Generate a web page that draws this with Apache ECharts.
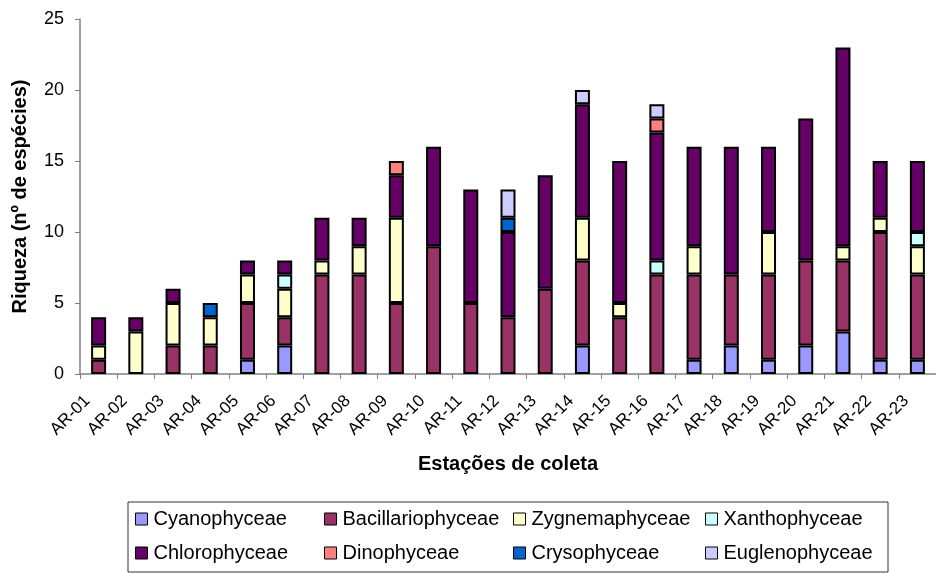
<!DOCTYPE html>
<html>
<head>
<meta charset="utf-8">
<script src="https://cdn.jsdelivr.net/npm/echarts@6/dist/echarts.min.js"></script>
<style>
html,body{margin:0;padding:0;background:#fff;}
#chart{width:936px;height:574px;}
</style>
</head>
<body>
<div id="chart"></div>
<script>
const categories = ['AR-01','AR-02','AR-03','AR-04','AR-05','AR-06','AR-07','AR-08','AR-09','AR-10','AR-11','AR-12','AR-13','AR-14','AR-15','AR-16','AR-17','AR-18','AR-19','AR-20','AR-21','AR-22','AR-23'];
const yTicks = [0, 5, 10, 15, 20, 25];

const cyanophyceae      = [0,0,0,0,1,2,0,0,0,0,0,0,0,2,0,0,1,2,1,2,3,1,1];
const bacillariophyceae = [1,0,2,2,4,2,7,7,5,9,5,4,6,6,4,7,6,5,6,6,5,9,6];
const zygnemaphyceae    = [1,3,3,2,2,2,1,2,6,0,0,0,0,3,1,0,2,0,3,0,1,1,2];
const xanthophyceae     = [0,0,0,0,0,1,0,0,0,0,0,0,0,0,0,1,0,0,0,0,0,0,1];
const chlorophyceae     = [2,1,1,0,1,1,3,2,3,7,8,6,8,8,10,9,7,9,6,10,14,4,5];
const dinophyceae       = [0,0,0,0,0,0,0,0,1,0,0,0,0,0,0,1,0,0,0,0,0,0,0];
const crysophyceae      = [0,0,0,1,0,0,0,0,0,0,0,1,0,0,0,0,0,0,0,0,0,0,0];
const euglenophyceae    = [0,0,0,0,0,0,0,0,0,0,0,2,0,1,0,1,0,0,0,0,0,0,0];

const seriesNames = ['Cyanophyceae','Bacillariophyceae','Zygnemaphyceae','Xanthophyceae','Chlorophyceae','Dinophyceae','Crysophyceae','Euglenophyceae'];
const seriesValues = [cyanophyceae, bacillariophyceae, zygnemaphyceae, xanthophyceae, chlorophyceae, dinophyceae, crysophyceae, euglenophyceae];
const seriesColors = ['#9999FF','#993366','#FFFFCC','#CCFFFF','#660066','#FF8080','#0066CC','#CCCCFF'];

const FONT = 'Liberation Sans, Arial, sans-serif';

const series = seriesNames.map((name, i) => ({
  name: name,
  type: 'bar',
  stack: 'total',
  barWidth: 15,
  data: seriesValues[i].map(v => v === 0 ? '-' : v),
  itemStyle: { color: seriesColors[i], borderColor: '#000', borderWidth: 2 },
  emphasis: { disabled: true }
}));

const legendCols = [
  ['Cyanophyceae','Chlorophyceae'],
  ['Bacillariophyceae','Dinophyceae'],
  ['Zygnemaphyceae','Crysophyceae'],
  ['Xanthophyceae','Euglenophyceae']
];
const legendLeft = [135, 324, 513, 705];
const legends = legendCols.map((col, i) => ({
  data: col,
  orient: 'vertical',
  left: legendLeft[i],
  top: 509,
  icon: 'rect',
  itemWidth: 12,
  itemHeight: 12,
  itemGap: 14,
  padding: 0,
  selectedMode: false,
  itemStyle: { borderColor: '#000', borderWidth: 1 },
  textStyle: { fontFamily: FONT, fontSize: 20, color: '#000', lineHeight: 20, padding: [0,0,0,1] }
}));

const chart = echarts.init(document.getElementById('chart'), null, { renderer: 'canvas' });
chart.setOption({
  animation: false,
  backgroundColor: '#fff',
  grid: { left: 80, right: -2, top: 19, bottom: 200, containLabel: false },
  legend: legends,
  graphic: [{
    type: 'rect',
    shape: { x: 128, y: 502, width: 760, height: 70 },
    style: { fill: 'none', stroke: '#333', lineWidth: 1 },
    z: -1
  }],
  xAxis: {
    type: 'category',
    data: categories,
    name: 'Estações de coleta',
    nameLocation: 'middle',
    nameGap: 80,
    nameTextStyle: { fontFamily: FONT, fontSize: 20, fontWeight: 'bold', color: '#000' },
    axisLine: { lineStyle: { color: '#808080', width: 1.5 } },
    axisTick: { show: true, length: 5, lineStyle: { color: '#808080', width: 1 } },
    axisLabel: { rotate: 45, fontFamily: FONT, fontSize: 17, color: '#000', margin: 13, padding: [0, 16, 0, 0], interval: 0 }
  },
  yAxis: {
    type: 'value',
    min: yTicks[0],
    max: yTicks[yTicks.length - 1],
    interval: yTicks[1] - yTicks[0],
    name: 'Riqueza (nº de espécies)',
    nameLocation: 'middle',
    nameGap: 50,
    nameTextStyle: { fontFamily: FONT, fontSize: 20, fontWeight: 'bold', color: '#000' },
    axisLine: { show: true, lineStyle: { color: '#808080', width: 1.5 } },
    axisTick: { show: true, length: 5, lineStyle: { color: '#808080', width: 1 } },
    splitLine: { show: false },
    axisLabel: { fontFamily: FONT, fontSize: 18, color: '#000', margin: 16 }
  },
  series: series
});
</script>
</body>
</html>
